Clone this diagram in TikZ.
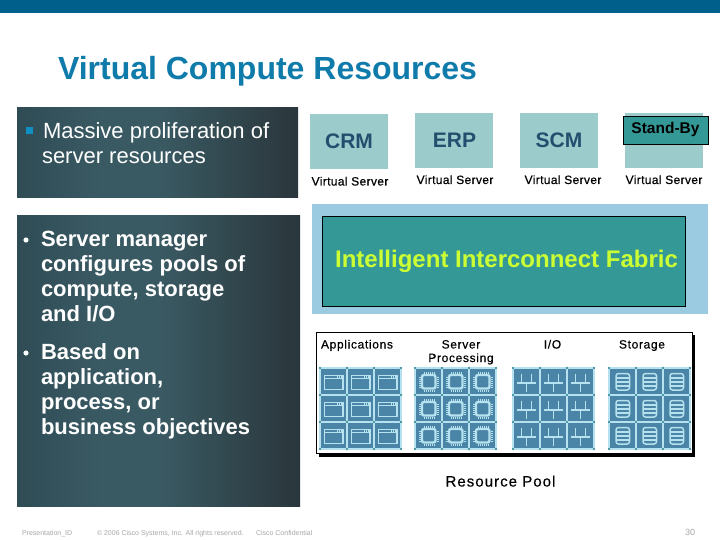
\documentclass[tikz,border=0pt]{standalone}
\usepackage{fontspec}
\setmainfont{Liberation Sans}
\definecolor{band}{HTML}{005F8B}
\definecolor{titleblue}{HTML}{0F7BAB}
\definecolor{panelL}{HTML}{2F4C55}
\definecolor{panelM}{HTML}{3A5A63}
\definecolor{panelR}{HTML}{2A363B}
\definecolor{vsfill}{HTML}{9CCBCC}
\definecolor{vstext}{HTML}{234F6E}
\definecolor{fabout}{HTML}{9ACBE0}
\definecolor{fabin}{HTML}{339896}
\definecolor{fabtext}{HTML}{CCFF33}
\definecolor{tile}{HTML}{4A84A6}
\definecolor{tileline}{HTML}{B5E2EE}
\definecolor{tiledot}{HTML}{2A7F8C}
\definecolor{foot}{HTML}{A8A8A8}
\definecolor{bullet}{HTML}{0F8FC4}
\pgfdeclarehorizontalshading{panelshade}{100bp}{color(0bp)=(panelL); color(25bp)=(panelL); color(40bp)=(panelM); color(50bp)=(panelM); color(75bp)=(panelR); color(100bp)=(panelR)}
\tikzset{
  x=1pt,y=-1pt,
  txt/.style={inner sep=0pt,outer sep=0pt},
  panel/.style={shading=panelshade,draw=none},
  vsbox/.style={fill=vsfill,draw=none},
  vslabel/.style={txt,anchor=base,text=black,font=\fontsize{12}{13}\selectfont\addfontfeature{LetterSpace=3,FakeBold=0.6}},
  vsname/.style={txt,anchor=base,text=vstext,font=\fontsize{21}{21}\selectfont\bfseries},
  body/.style={txt,anchor=base west,text=white,font=\fontsize{22}{22}\selectfont},
  bodyb/.style={txt,anchor=base west,text=white,font=\fontsize{22}{22}\selectfont\bfseries},
  small/.style={txt,anchor=base,text=black,font=\fontsize{12}{13}\selectfont\addfontfeature{LetterSpace=5.5,FakeBold=0.4}},
  foottext/.style={txt,anchor=base west,text=foot,font=\fontsize{7}{8}\selectfont},
  ic/.style={draw=tileline,line width=1.5pt},
  tilebox/.style={fill=tile,draw=tileline,line width=1.3pt}
}
\newcommand{\tiledots}{%
  \foreach \a in {0,27}\foreach \b in {0,27}{\fill[tiledot] (\a,\b) circle (1.2);}}
\newcommand{\appicon}{%
  \draw[ic] (4.5,7.5) rectangle (23,21.5);
  \draw[ic,line width=1pt] (4.5,10.5) -- (23,10.5);
  \draw[ic,line width=.9pt] (17,6.5) -- (17,9.5) (19,6.5) -- (19,9.5) (21,6.5) -- (21,9.5);}
\newcommand{\chipicon}{%
  \draw[ic,line width=2.4pt,rounded corners=2pt] (7,7) rectangle (20.5,20.5);
  \foreach \p in {9,11,13,15,17,19}{
    \draw[ic,line width=.8pt] (\p,4) -- (\p,6) (\p,21.5) -- (\p,23.5) (4,\p) -- (6,\p) (21.5,\p) -- (23.5,\p);}}
\newcommand{\ioicon}{%
  \draw[ic] (13.5,24) -- (13.5,15) (4,15) -- (23,15) (8.5,5.5) -- (8.5,15) (18.5,5.5) -- (18.5,15);}
\newcommand{\storicon}{%
  \draw[ic,rounded corners=2.5pt] (7,5.5) rectangle (20.5,22);
  \draw[ic,line width=1.1pt] (7,10) -- (20.5,10) (7,14) -- (20.5,14) (7,18) -- (20.5,18);}
\newcommand{\tilegrid}[3]{% x, y, icon
  \foreach \c in {0,1,2}\foreach \r in {0,1,2}{
    \begin{scope}[shift={(#1+27*\c,#2+27*\r)}]
      \path[tilebox] (0,0) rectangle (27,27);
      \tiledots
      #3
    \end{scope}}}
\begin{document}
\begin{tikzpicture}
\useasboundingbox (0,0) rectangle (720,540);
\fill[white] (0,0) rectangle (720,540);
\fill[band] (0,0) rectangle (720,13.5);
\node[txt,anchor=base west,text=titleblue,font=\fontsize{32}{32}\selectfont\bfseries] (title) at (58,80) {Virtual Compute Resources};
% left panels
\path[panel] (17,108) rectangle (298,198);
\path[panel] (17,216) rectangle (300,506);
\fill[bullet] (26,127) rectangle (33,134);
\node[body] (m1) at (43,138.5) {Massive proliferation of};
\node[body] (m2) at (42,163.5) {server resources};
\node[bodyb] (b1) at (41,246) {Server manager};
\node[bodyb] (b2) at (41,271) {configures pools of};
\node[bodyb] (b3) at (41,296) {compute, storage};
\node[bodyb] (b4) at (41,321) {and I/O};
\node[bodyb] (b5) at (41,359) {Based on};
\node[bodyb] (b6) at (41,384) {application,};
\node[bodyb] (b7) at (41,409) {process, or};
\node[bodyb] (b8) at (41,434) {business objectives};
\fill[white] (26,240) circle (2.6);
\fill[white] (26,353) circle (2.6);
% virtual servers
\fill[vsbox] (310,114) rectangle (388,169);
\fill[vsbox] (415,113) rectangle (493,168);
\fill[vsbox] (520,113) rectangle (598,168);
\fill[vsbox] (625,113) rectangle (703,168);
\node[vsname] (crm) at (349,149) {CRM};
\node[vsname] (erp) at (454.5,147.5) {ERP};
\node[vsname] (scm) at (559,147.5) {SCM};
\path[fill=fabin,draw=black,line width=.7pt] (623.5,116) rectangle (708.5,144.5);
\node[txt,anchor=base,text=black,font=\fontsize{15.5}{16}\selectfont\bfseries] (sb) at (665.5,134) {Stand-By};
\node[vslabel] (v1) at (350,185.5) {Virtual Server};
\node[vslabel] (v2) at (455,184) {Virtual Server};
\node[vslabel] (v3) at (563,184) {Virtual Server};
\node[vslabel] (v4) at (664,184) {Virtual Server};
% fabric
\fill[fabout] (312,204) rectangle (708,314);
\path[fill=fabin,draw=black,line width=.7pt] (322.5,216.5) rectangle (685,306);
\node[txt,anchor=base,text=fabtext,font=\fontsize{24}{24}\selectfont\bfseries] (fab) at (506.5,267) {Intelligent Interconnect Fabric};
% pool
\fill[black] (319,335) rectangle (695,456.5);
\path[fill=white,draw=black,line width=.6pt] (316.5,332.5) rectangle (692.5,453.5);
\node[small] (a) at (357,348.5) {Applications};
\node[small] (s1) at (461,348.5) {Server};
\node[small] (s2) at (461,362) {Processing};
\node[small] (io) at (552.5,348.5) {I/O};
\node[small] (st) at (642,348.5) {Storage};
\tilegrid{320}{368}{\appicon}
\tilegrid{415}{368}{\chipicon}
\tilegrid{513}{368}{\ioicon}
\tilegrid{609}{368}{\storicon}
\node[txt,anchor=base,text=black,font=\fontsize{15}{15}\selectfont\addfontfeature{LetterSpace=7,FakeBold=0.4}] (rp) at (500.5,486.5) {Resource Pool};
% footer
\node[foottext] (f1) at (22,535) {Presentation\_ID};
\node[foottext] (f2) at (97,535) {© 2006 Cisco Systems, Inc. All rights reserved.};
\node[foottext] (f3) at (256,535) {Cisco Confidential};
\node[foottext,font=\fontsize{9}{9}\selectfont] (f4) at (685,535) {30};
\end{tikzpicture}
\end{document}
